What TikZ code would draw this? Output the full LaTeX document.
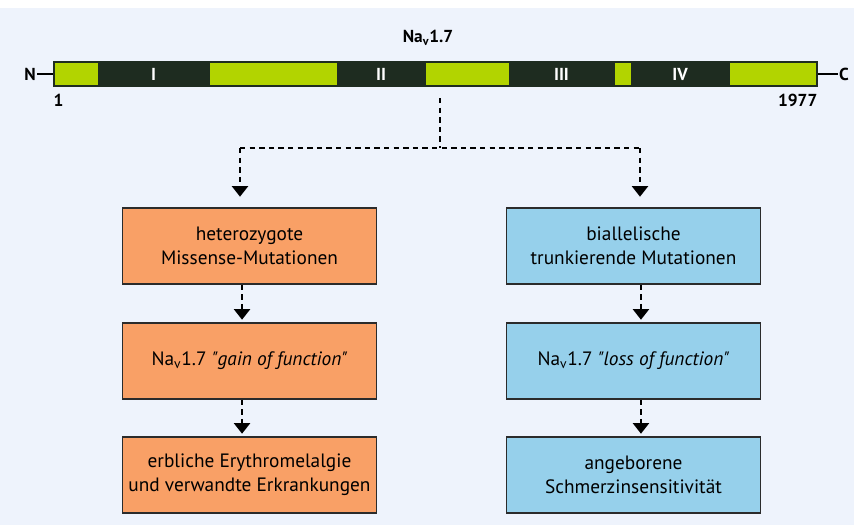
\documentclass[tikz,border=0pt]{standalone}
\usepackage{fontspec}
\setmainfont{PT Sans}
\usetikzlibrary{arrows.meta,positioning}
\definecolor{bgblue}{HTML}{EEF3FC}
\definecolor{linkgreen}{HTML}{B2D400}
\definecolor{domdark}{HTML}{1E2C20}
\definecolor{gofcol}{HTML}{F9A066}
\definecolor{lofcol}{HTML}{96D0EB}
\definecolor{edge}{HTML}{2B2B2B}
\newcommand{\navsub}{Na\textsubscript{v}1.7}
\tikzset{
	linker/.style={draw=domdark,fill=linkgreen,line width=0.8pt,minimum height=18pt,inner sep=0pt},
	dom/.style={draw=domdark,fill=domdark,text=white,font=\bfseries\fontsize{13}{15}\selectfont,minimum height=18pt,inner sep=0pt},
	term/.style={font=\bfseries\fontsize{13}{15}\selectfont,inner sep=1pt},
	box/.style={draw=edge,line width=0.9pt,align=center,minimum width=190.5pt,minimum height=57pt,inner sep=2pt,font=\fontsize{14.5}{18}\selectfont},
	gof/.style={box,fill=gofcol},
	lof/.style={box,fill=lofcol},
	dline/.style={line width=1.9pt,dash pattern=on 4pt off 3.2pt},
	flow/.style={dline,-{Triangle[length=8pt,width=12pt]}}
}

\begin{document}
\begin{tikzpicture}[x=0.75pt,y=-0.75pt]
	\useasboundingbox (0,0) rectangle (854,525);
	\fill[bgblue] (0,8) rectangle (854,525);

	% protein chain
	\node[term] (title) at (428,38) {\navsub};
	\node[linker,minimum width=572.25pt] (bar) at (435.5,74) {};
	\node[dom,minimum width=83.25pt] (d1) at (153.5,74) {I};
	\node[dom,minimum width=66pt] (d2) at (381,74) {II};
	\node[dom,minimum width=78.75pt] (d3) at (561.5,74) {III};
	\node[dom,minimum width=73.5pt] (d4) at (680,74) {IV};
	\draw[domdark,line width=0.8pt] (bar.north west) rectangle (bar.south east);
	\node[term] (nterm) at (30,74) {N};
	\node[term] (cterm) at (844,74) {C};
	\draw[line width=2pt] (nterm.east) -- (bar.west);
	\draw[line width=2pt] (bar.east) -- (cterm.west);
	\node[term,anchor=west] (first) at (52,100) {1};
	\node[term,anchor=east] (last) at (819,100) {1977};

	% flow
	\node[gof] (miss) at (249.5,246) {heterozygote\\Missense-Mutationen};
	\node[gof] (gain) at (249.5,361) {\navsub{} \textit{\textquotedbl gain of function\textquotedbl}};
	\node[gof] (eryth) at (249.5,475) {erbliche Erythromelalgie\\und verwandte Erkrankungen};
	\node[lof] (trunc) at (633.5,246) {biallelische\\trunkierende Mutationen};
	\node[lof] (loss) at (633.5,361) {\navsub{} \textit{\textquotedbl loss of function\textquotedbl}};
	\node[lof] (insens) at (633.5,475) {angeborene\\Schmerzinsensitivität};

	\coordinate (stem) at (440,98);
	\coordinate (split) at (440,148);
	\coordinate (hl) at (240,148);
	\coordinate (hr) at (640,148);
	\draw[dline] (stem) -- (split);
	\draw[dline] (hl) -- (hr);
	\draw[flow,shorten >=8pt] (hl) -- (hl |- miss.north);
	\draw[flow,shorten >=8pt] (hr) -- (hr |- trunc.north);
	\draw[flow,shorten >=2pt] ([xshift=-5.6pt]miss.south) -- ([xshift=-5.6pt]gain.north);
	\draw[flow,shorten >=2pt] ([xshift=-5.6pt]gain.south) -- ([xshift=-5.6pt]eryth.north);
	\draw[flow,shorten >=2pt] ([xshift=5.6pt]trunc.south) -- ([xshift=5.6pt]loss.north);
	\draw[flow,shorten >=2pt] ([xshift=5.6pt]loss.south) -- ([xshift=5.6pt]insens.north);
\end{tikzpicture}
\end{document}
